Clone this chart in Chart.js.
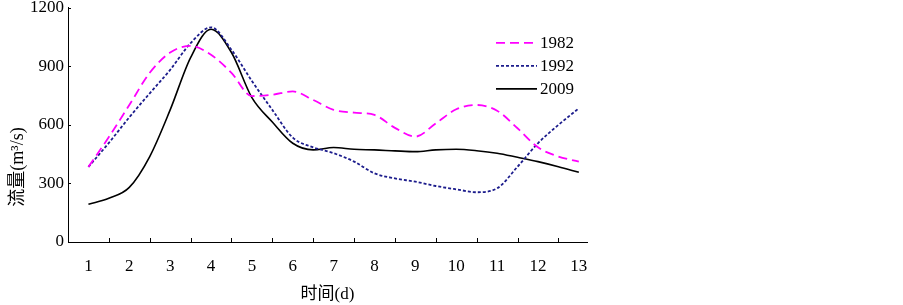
<!DOCTYPE html>
<html>
<head>
<meta charset="utf-8">
<script src="https://cdn.jsdelivr.net/npm/chart.js@4/dist/chart.umd.min.js"></script>
<style>
html,body{margin:0;padding:0;background:#fff;}
canvas{display:block;}
</style>
</head>
<body>
<canvas id="c" width="903" height="305"></canvas>
<script>
// ---- data ----
const days = [1,1.5,2,2.5,3,3.5,4,4.5,5,5.5,6,6.5,7,7.5,8,8.5,9,9.5,10,10.5,11,11.5,12,12.5,13];
const flow1982 = [385,538,702,867,971,1005,959,867,748,755,772,728,677,663,651,585,540,608,680,702,673,583,485,438,412];
const flow1992 = [385,508,639,762,882,1019,1100,985,825,677,535,485,455,412,352,326,309,287,270,255,275,386,506,600,685];
const flow2009 = [193,224,280,438,677,945,1090,971,740,615,506,472,484,475,472,467,463,472,475,468,455,434,412,386,357];
const xTickLabels = [1,2,3,4,5,6,7,8,9,10,11,12,13];
const yTickLabels = [0,300,600,900,1200];
const seriesNames = ['1982','1992','2009'];
const xTitle = '时间(d)';
const yTitle = '流量(m³/s)';

const serif = '"Liberation Serif", "Noto Sans CJK SC", serif';

function pts(vals){ return days.map((d,i)=>({x:d, y:vals[i]})); }

const datasets = [
  {label: seriesNames[0], data: pts(flow1982), borderColor:'#ff00ff', borderWidth:1.8, borderDash:[9,5]},
  {label: seriesNames[1], data: pts(flow1992), borderColor:'#1c1c8c', borderWidth:1.8, borderDash:[3,2]},
  {label: seriesNames[2], data: pts(flow2009), borderColor:'#000000', borderWidth:1.6, borderDash:[]}
].map(ds => Object.assign(ds, {pointRadius:0, fill:false, cubicInterpolationMode:'monotone'}));

const innerTicks = {
  id:'innerTicks',
  afterDraw(chart){
    const ctx = chart.ctx, xs = chart.scales.x, ys = chart.scales.y, ca = chart.chartArea;
    ctx.save();
    ctx.strokeStyle = '#000'; ctx.lineWidth = 1;
    for (let i=0;i<xTickLabels.length-1;i++){
      const v = (xTickLabels[i]+xTickLabels[i+1])/2;
      const px = Math.round(xs.getPixelForValue(v))+0.5;
      ctx.beginPath(); ctx.moveTo(px,ca.bottom); ctx.lineTo(px,ca.bottom-4); ctx.stroke();
    }
    yTickLabels.forEach(v=>{
      const py = Math.round(ys.getPixelForValue(v))+0.5;
      ctx.beginPath(); ctx.moveTo(ca.left,py); ctx.lineTo(ca.left+3,py); ctx.stroke();
    });
    ctx.restore();
  }
};

const yTitlePlugin = {
  id:'yTitlePlugin',
  afterDraw(chart){
    const ctx = chart.ctx, ca = chart.chartArea;
    ctx.save();
    ctx.translate(18, ca.top + (ca.bottom-ca.top)*0.68);
    ctx.rotate(-Math.PI/2);
    ctx.font = '18px ' + serif;
    ctx.fillStyle = '#000';
    ctx.textAlign = 'center';
    ctx.textBaseline = 'middle';
    ctx.fillText(yTitle, 0, 0);
    ctx.restore();
  }
};

const legendPlugin = {
  id:'legendPlugin',
  afterDraw(chart){
    const ctx = chart.ctx, ca = chart.chartArea;
    ctx.save();
    ctx.font = '17px ' + serif;
    ctx.textBaseline = 'middle';
    ctx.textAlign = 'left';
    const x0 = ca.right - 91, x1 = ca.right - 50;
    chart.data.datasets.forEach((ds,i)=>{
      const y = ca.top + 35 + i*23;
      ctx.strokeStyle = ds.borderColor;
      ctx.lineWidth = ds.borderWidth;
      ctx.setLineDash(ds.borderDash);
      ctx.beginPath(); ctx.moveTo(x0,y); ctx.lineTo(x1,y); ctx.stroke();
      ctx.setLineDash([]);
      ctx.fillStyle = '#000';
      ctx.fillText(ds.label, x1+3, y+1);
    });
    ctx.restore();
  }
};

new Chart(document.getElementById('c'), {
  type:'line',
  data:{datasets},
  plugins:[innerTicks, yTitlePlugin, legendPlugin],
  options:{
    responsive:false,
    animation:false,
    devicePixelRatio:1,
    layout:{padding:{left:0, right:316, top:0, bottom:0}},
    plugins:{legend:{display:false}, tooltip:{enabled:false}},
    scales:{
      x:{
        type:'linear', min:0.5, max:13.2,
        afterBuildTicks: s => { s.ticks = xTickLabels.map(v=>({value:v})); },
        afterFit: s => { s.height = 63; },
        grid:{display:true, drawOnChartArea:false, drawTicks:false},
        border:{display:true, color:'#000', width:1},
        ticks:{color:'#000', padding:14, maxRotation:0, autoSkip:false,
               callback: v => String(v),
               font:{family:serif, size:17, lineHeight:1.2}},
        title:{display:true, text:xTitle, color:'#000', padding:{top:0,bottom:0},
               font:{family:serif, size:17, lineHeight:1.2}}
      },
      y:{
        type:'linear', min:0, max:1200,
        afterBuildTicks: s => { s.ticks = yTickLabels.map(v=>({value:v})); },
        afterFit: s => { s.width = 68; },
        grid:{display:true, drawOnChartArea:false, drawTicks:false},
        border:{display:true, color:'#000', width:1},
        ticks:{color:'#000', padding:4, callback: v => String(v),
               font:{family:serif, size:17, lineHeight:0.45}}
      }
    }
  }
});
</script>
</body>
</html>
